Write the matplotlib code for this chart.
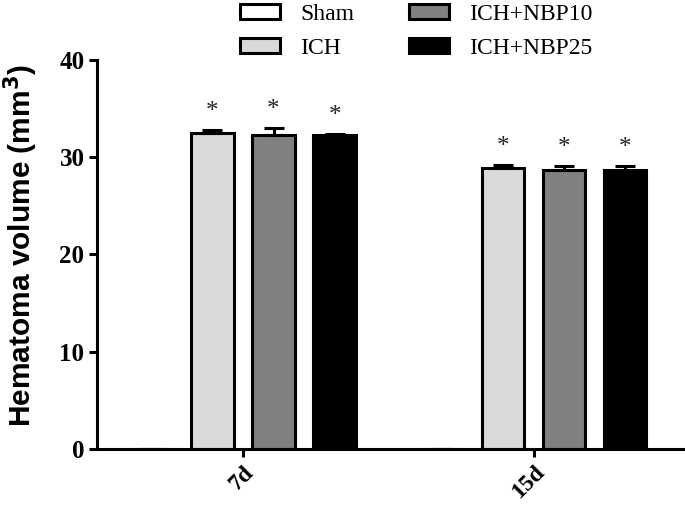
import matplotlib

matplotlib.use("Agg")

import matplotlib.pyplot as plt
import numpy as np

# data
timepoints = ["7d", "15d"]
groups = ["Sham", "ICH", "ICH+NBP10", "ICH+NBP25"]
means = {
    "Sham": [0.0, 0.0],
    "ICH": [32.5, 28.9],
    "ICH+NBP10": [32.3, 28.7],
    "ICH+NBP25": [32.3, 28.7],
}
errors = {
    "Sham": [0.0, 0.0],
    "ICH": [0.3, 0.3],
    "ICH+NBP10": [0.7, 0.4],
    "ICH+NBP25": [0.1, 0.4],
}
starred = ["ICH", "ICH+NBP10", "ICH+NBP25"]
fills = {"Sham": "white", "ICH": "#d9d9d9", "ICH+NBP10": "#808080", "ICH+NBP25": "black"}

serif = ["Liberation Serif", "DejaVu Serif"]
sans = ["Liberation Sans", "DejaVu Sans"]

fig = plt.figure(figsize=(6.85, 5.17), dpi=100)
ax = fig.add_axes([0.1416, 0.1315, 0.855, 0.7525])

x = np.arange(len(timepoints))
step = 0.21
width = 0.145
lw = 2.2

for i, g in enumerate(groups):
    pos = x + (i - 1.5) * step
    vals = np.array(means[g])
    errs = np.array(errors[g])
    ax.bar(pos, vals, width=width, color=fills[g], edgecolor="black",
           linewidth=lw, label=g, zorder=2)
    ax.errorbar(pos, vals, yerr=[np.zeros_like(errs), errs], fmt="none",
                ecolor="black", elinewidth=lw, capsize=7, capthick=lw, zorder=3)
    if g in starred:
        for px, v, e in zip(pos, vals, errs):
            ax.annotate("*", (px, v + e), xytext=(0, 5), textcoords="offset points",
                        ha="center", va="bottom", fontsize=18, color="#222222",
                        family=serif)

ax.set_xlim(-0.502, 1.512)
ax.set_ylim(0, 40)
ax.set_yticks([0, 10, 20, 30, 40])
ax.set_xticks(x)
ax.set_xticklabels(timepoints, rotation=45, ha="right", rotation_mode="anchor",
                   fontsize=17, fontweight="bold", family=serif)
for lab in ax.get_yticklabels():
    lab.set_fontsize(18)
    lab.set_fontweight("bold")
    lab.set_family(serif)

ax.spines["top"].set_visible(False)
ax.spines["right"].set_visible(False)
ax.spines["left"].set_linewidth(lw)
ax.spines["bottom"].set_linewidth(lw)
ax.tick_params(axis="both", length=6, width=lw, pad=3)

ax.set_ylabel("Hematoma volume (mm$^\\mathbf{3}$)", fontsize=21.5, fontweight="bold",
              family=sans)
ax.yaxis.set_label_coords(-0.097, 0.522)

leg = fig.legend(loc="upper left", bbox_to_anchor=(0.33, 1.02), ncol=2,
                 frameon=False, prop={"family": serif, "size": 17},
                 handlelength=1.7, handleheight=0.6, handletextpad=0.85,
                 columnspacing=2.3, labelspacing=0.55, borderpad=0.1)
for patch in leg.get_patches():
    patch.set_linewidth(lw)

fig.savefig("out.png", dpi=100)
